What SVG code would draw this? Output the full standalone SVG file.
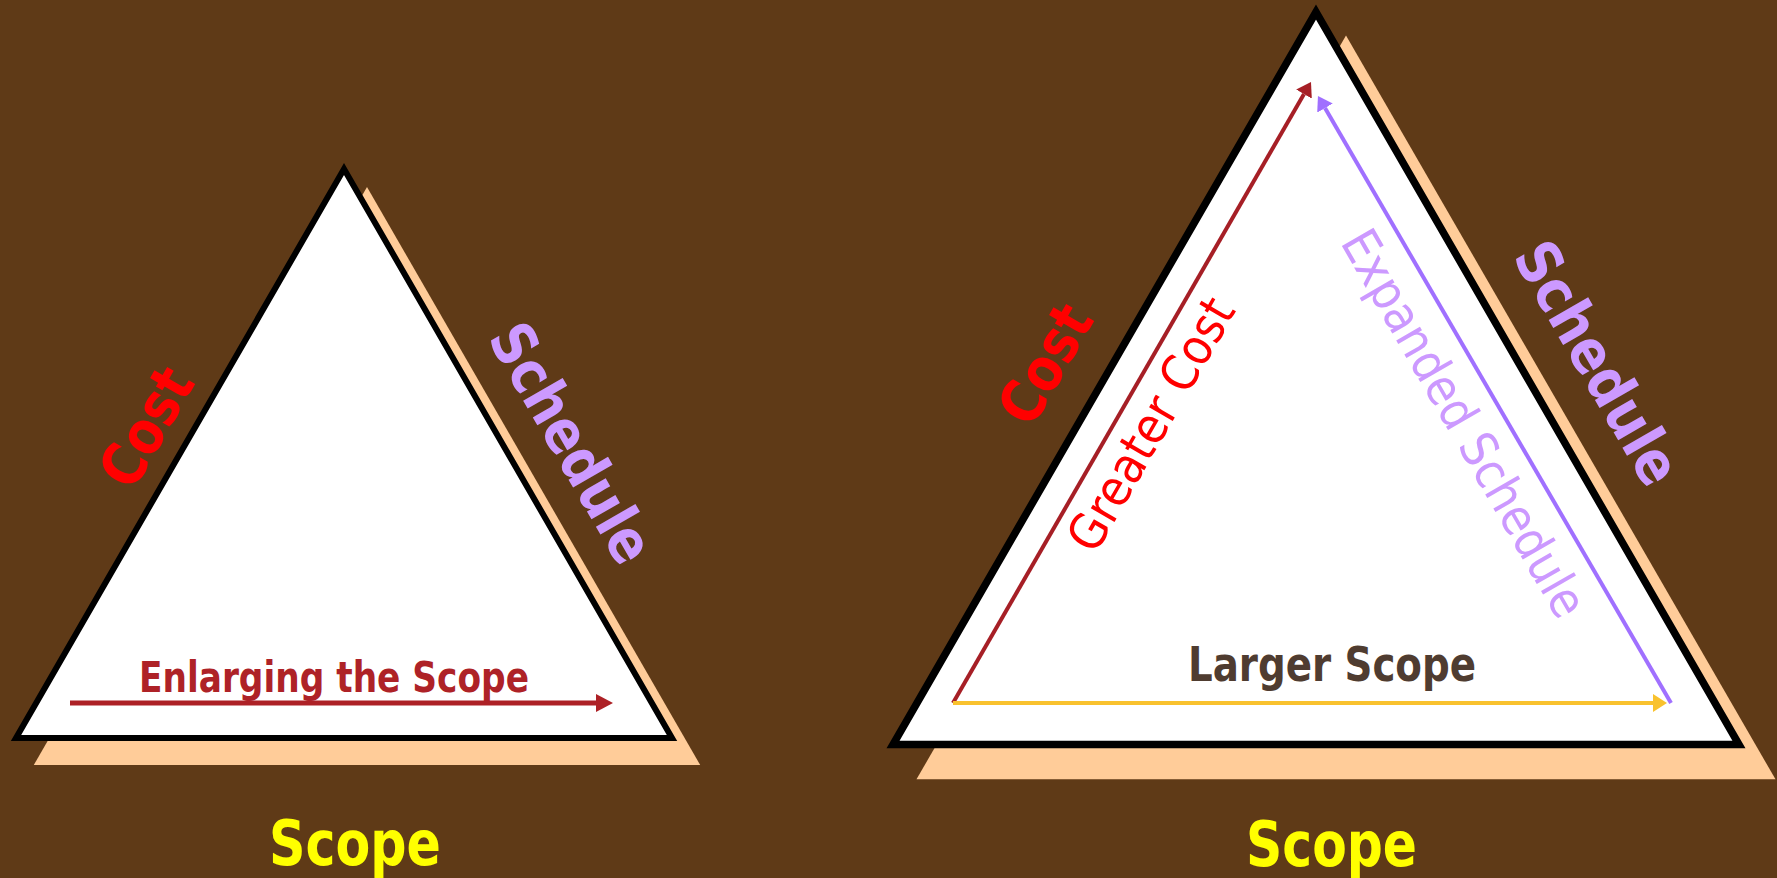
<svg xmlns="http://www.w3.org/2000/svg" width="1777" height="878" viewBox="0 0 1777 878">
  <defs>
    <style>
      .bg { fill: #5F3A17; }
      .shadow { fill: #FFCC99; stroke: none; }
      .tri { fill: #FFFFFF; stroke: #000000; stroke-linejoin: miter; stroke-miterlimit: 10; }
      .t { font-family: "DejaVu Sans", "Liberation Sans", sans-serif; font-stretch: condensed; text-anchor: middle; }
      .big { font-size: 60px; font-weight: bold; }
      .mid { font-size: 50px; font-weight: normal; }
      .red { fill: #FF0000; }
      .lav { fill: #CC99FF; }
      .yel { fill: #FFFF00; }
    </style>
    <marker id="headL" markerUnits="userSpaceOnUse" markerWidth="17" markerHeight="18" refX="0" refY="9" orient="auto" viewBox="0 0 17 18">
      <path d="M0,0 L17,9 L0,18 z" fill="#AD2126"/>
    </marker>
    <marker id="headR" markerUnits="userSpaceOnUse" markerWidth="14" markerHeight="18" refX="0" refY="9" orient="auto" viewBox="0 0 14 18">
      <path d="M0,0 L14,9 L0,18 z" fill="#A61F26"/>
    </marker>
    <marker id="headP" markerUnits="userSpaceOnUse" markerWidth="14" markerHeight="18" refX="0" refY="9" orient="auto" viewBox="0 0 14 18">
      <path d="M0,0 L14,9 L0,18 z" fill="#A070FF"/>
    </marker>
    <marker id="headY" markerUnits="userSpaceOnUse" markerWidth="14" markerHeight="18" refX="0" refY="9" orient="auto" viewBox="0 0 14 18">
      <path d="M0,0 L14,9 L0,18 z" fill="#F9C22E"/>
    </marker>
  </defs>

  <rect class="bg" x="0" y="0" width="1777" height="878"/>

  <g id="left-triangle">
    <polygon class="shadow" points="367,187 33.8,765 700.2,765"/>
    <polygon class="tri" stroke-width="6" points="344,169 16,738 672,738"/>
  </g>

  <g id="right-triangle">
    <polygon class="shadow" points="1346,35.5 916.5,779.3 1775.5,779.3"/>
    <polygon class="tri" stroke-width="7.5" points="1316,12 893,744.5 1739,744.5"/>
  </g>

  <g id="connectors" fill="none">
    <line x1="70" y1="703" x2="596" y2="703" stroke="#AD2126" stroke-width="5" marker-end="url(#headL)"/>
    <line x1="953" y1="703" x2="1304" y2="94.1" stroke="#A61F26" stroke-width="4" marker-end="url(#headR)"/>
    <line x1="1671" y1="703" x2="1325" y2="108.1" stroke="#A070FF" stroke-width="4" marker-end="url(#headP)"/>
    <line x1="953" y1="703" x2="1653" y2="703" stroke="#F9C22E" stroke-width="4" marker-end="url(#headY)"/>
  </g>

  <g id="left-labels">
    <text class="t big red" transform="translate(148,428) rotate(-60)" x="0" y="19" textLength="127" lengthAdjust="spacingAndGlyphs">Cost</text>
    <text class="t big lav" transform="translate(570,444) rotate(60)" x="0" y="19" textLength="266" lengthAdjust="spacingAndGlyphs">Schedule</text>
    <text class="t yel" x="355" y="865" font-size="63" font-weight="bold" textLength="172" lengthAdjust="spacingAndGlyphs">Scope</text>
    <text class="t" x="334" y="692" font-size="42" font-weight="bold" fill="#AE2227" textLength="390" lengthAdjust="spacingAndGlyphs">Enlarging the Scope</text>
  </g>

  <g id="right-labels">
    <text class="t big red" transform="translate(1047,365) rotate(-60)" x="0" y="19" textLength="127" lengthAdjust="spacingAndGlyphs">Cost</text>
    <text class="t big lav" transform="translate(1596,364) rotate(60)" x="0" y="19" textLength="270" lengthAdjust="spacingAndGlyphs">Schedule</text>
    <text class="t mid red" transform="translate(1152,425) rotate(-60)" x="0" y="16" textLength="283" lengthAdjust="spacingAndGlyphs">Greater Cost</text>
    <text class="t mid lav" transform="translate(1463,424) rotate(60)" x="0" y="16" textLength="438" lengthAdjust="spacingAndGlyphs">Expanded Schedule</text>
    <text class="t" x="1332" y="681" font-size="48" font-weight="bold" fill="#4F3C30" textLength="288" lengthAdjust="spacingAndGlyphs">Larger Scope</text>
    <text class="t yel" x="1331.5" y="866" font-size="63" font-weight="bold" textLength="171" lengthAdjust="spacingAndGlyphs">Scope</text>
  </g>
</svg>
